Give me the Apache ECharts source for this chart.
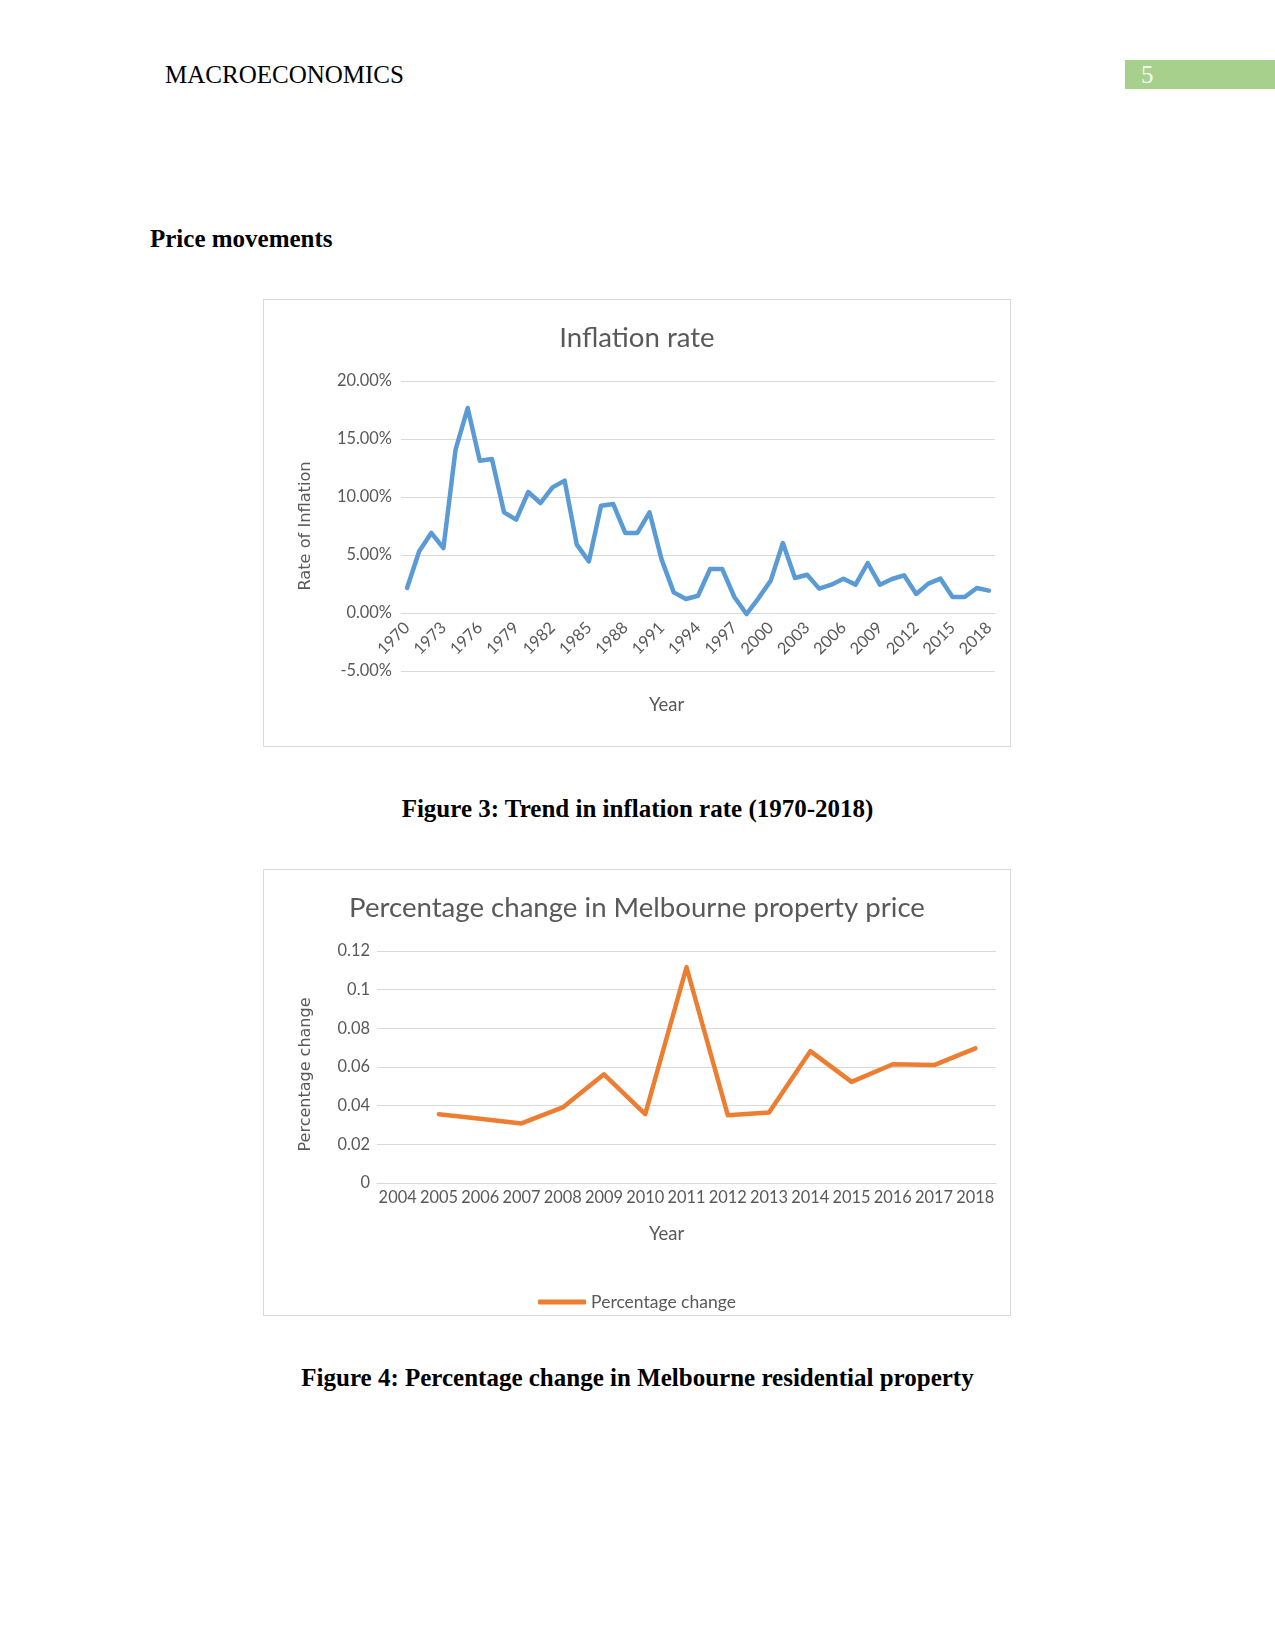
<!DOCTYPE html>
<html>
<head>
<meta charset="utf-8">
<script src="https://cdn.jsdelivr.net/npm/echarts@6/dist/echarts.min.js"></script>
<style>
  html, body { margin: 0; padding: 0; background: #ffffff; }
  #page { position: relative; width: 1275px; height: 1650px; background: #ffffff; overflow: hidden; }
  .serif { position: absolute; font-family: "Liberation Serif", "Times New Roman", serif; color: #000; white-space: nowrap; line-height: 30px; }
  .chartbox { position: absolute; border: 1px solid #D9D9D9; box-sizing: border-box; background: #fff; }
</style>
</head>
<body>
<div id="page">
  <div class="serif" style="left:165px; top:60px; font-size:25px;">MACROECONOMICS</div>
  <div style="position:absolute; left:1125px; top:60px; width:150px; height:29px; background:#A8D08D;"></div>
  <div class="serif" style="left:1141px; top:60px; font-size:25px; line-height:29px; color:#F4FAF0;">5</div>
  <div class="serif" style="left:150px; top:224px; font-size:25px; font-weight:bold;">Price movements</div>
  <div id="chart1" class="chartbox" style="left:263px; top:299px; width:748px; height:448px;"></div>
  <div class="serif" style="left:0; width:1275px; text-align:center; top:794px; font-size:25px; font-weight:bold;">Figure 3: Trend in inflation rate (1970-2018)</div>
  <div id="chart2" class="chartbox" style="left:263px; top:869px; width:748px; height:447px;"></div>
  <div class="serif" style="left:0; width:1275px; text-align:center; top:1363px; font-size:25px; font-weight:bold;">Figure 4: Percentage change in Melbourne residential property</div>
</div>
<script>
// ---------- Data ----------
const inflationYears = ['1970','1971','1972','1973','1974','1975','1976','1977','1978','1979',
  '1980','1981','1982','1983','1984','1985','1986','1987','1988','1989',
  '1990','1991','1992','1993','1994','1995','1996','1997','1998','1999',
  '2000','2001','2002','2003','2004','2005','2006','2007','2008','2009',
  '2010','2011','2012','2013','2014','2015','2016','2017','2018'];
const inflationRates = [0.0216,0.0532,0.0690,0.0560,0.1408,0.1767,0.1313,0.1328,0.0868,0.0805,
  0.1043,0.0948,0.1083,0.1141,0.0589,0.0445,0.0925,0.0940,0.0690,0.0690,
  0.0868,0.0460,0.0178,0.0121,0.0149,0.0379,0.0379,0.0138,-0.0009,0.0129,
  0.0279,0.0603,0.0302,0.0330,0.0210,0.0244,0.0296,0.0244,0.0431,0.0244,
  0.0293,0.0325,0.0164,0.0253,0.0296,0.0138,0.0138,0.0216,0.0193];
const inflationTicks = ['-5.00%','0.00%','5.00%','10.00%','15.00%','20.00%'];

const propertyYears = ['2004','2005','2006','2007','2008','2009','2010','2011','2012','2013','2014','2015','2016','2017','2018'];
const propertyChange = [null,0.0356,0.0332,0.0308,0.0391,0.0562,0.0356,0.1116,0.0351,0.0365,0.0682,0.0523,0.0614,0.0610,0.0696];
const propertyTicks = ['0','0.02','0.04','0.06','0.08','0.1','0.12'];

// ---------- Styles ----------
const TXT = '#595959';
const GRID = '#D9D9D9';
const LATO = 'Lato';

// ---------- Chart 1 ----------
const c1 = echarts.init(document.getElementById('chart1'), null, { renderer: 'canvas' });
c1.setOption({
  animation: false,
  title: {
    text: 'Inflation rate', left: 'center', top: 24, padding: 0,
    textStyle: { fontFamily: LATO, fontSize: 27.6, fontWeight: 'normal', color: TXT }
  },
  grid: { left: 137, right: 15, top: 81, bottom: 75 },
  graphic: [{
    type: 'text', left: 385, top: 396,
    style: { text: 'Year', font: '18.5px Lato', fill: TXT }
  }],
  xAxis: {
    type: 'category', data: inflationYears, boundaryGap: true,
    axisLine: { onZero: false, lineStyle: { color: GRID, width: 1 } },
    axisTick: { show: false },
    axisLabel: { interval: 2, rotate: 45, margin: 12, color: TXT, fontFamily: LATO, fontSize: 16.4 }
  },
  yAxis: {
    type: 'value', min: -0.05, max: 0.2, interval: 0.05,
    name: 'Rate of Inflation', nameLocation: 'middle', nameRotate: 90, nameGap: 87,
    nameTextStyle: { fontFamily: 'DejaVu Sans', fontSize: 16.2, color: TXT },
    axisLine: { show: false }, axisTick: { show: false },
    splitLine: { lineStyle: { color: GRID, width: 1 } },
    axisLabel: {
      margin: 9, color: TXT, fontFamily: LATO, fontSize: 16.4,
      formatter: function (v) {
        const idx = Math.round((v + 0.05) / 0.05);
        return inflationTicks[idx];
      }
    }
  },
  series: [{
    name: 'Inflation rate', type: 'line', data: inflationRates,
    showSymbol: false, symbol: 'none',
    lineStyle: { color: '#5B9BD5', width: 4.5, join: 'round', cap: 'round' },
    itemStyle: { color: '#5B9BD5' }
  }]
});
// Place the category axis on the zero line (as in the original), using the library's own y scale
(function () {
  const yZero = c1.convertToPixel({ yAxisIndex: 0 }, 0);
  const yMin = c1.convertToPixel({ yAxisIndex: 0 }, -0.05);
  c1.setOption({ xAxis: { offset: yZero - yMin } });
})();

// ---------- Chart 2 ----------
const c2 = echarts.init(document.getElementById('chart2'), null, { renderer: 'canvas' });
c2.setOption({
  animation: false,
  title: {
    text: 'Percentage change in Melbourne property price', left: 'center', top: 24, padding: 0,
    textStyle: { fontFamily: LATO, fontSize: 27.6, fontWeight: 'normal', color: TXT }
  },
  grid: { left: 113, right: 14, top: 81, bottom: 132 },
  graphic: [{
    type: 'text', left: 385, top: 355,
    style: { text: 'Year', font: '18.5px Lato', fill: TXT }
  }],
  legend: {
    top: 418, left: 'center',
    icon: 'roundRect', itemWidth: 48, itemHeight: 5, itemGap: 5,
    textStyle: { fontFamily: LATO, fontSize: 17.5, color: TXT }
  },
  xAxis: {
    type: 'category', data: propertyYears, boundaryGap: true,
    axisLine: { lineStyle: { color: GRID, width: 1 } },
    axisTick: { show: false },
    axisLabel: { interval: 0, margin: 7, color: TXT, fontFamily: LATO, fontSize: 16.4 }
  },
  yAxis: {
    type: 'value', min: 0, max: 0.12, interval: 0.02,
    name: 'Percentage change', nameLocation: 'middle', nameRotate: 90, nameGap: 63,
    nameTextStyle: { fontFamily: 'DejaVu Sans', fontSize: 16, color: TXT, padding: [0, 15, 0, 0] },
    axisLine: { show: false }, axisTick: { show: false },
    splitLine: { lineStyle: { color: GRID, width: 1 } },
    axisLabel: {
      margin: 7, color: TXT, fontFamily: LATO, fontSize: 16.4,
      formatter: function (v) {
        const idx = Math.round(v / 0.02);
        return propertyTicks[idx];
      }
    }
  },
  series: [{
    name: 'Percentage change', type: 'line', data: propertyChange,
    showSymbol: false, symbol: 'none', connectNulls: false,
    lineStyle: { color: '#ED7D31', width: 4.5, join: 'round', cap: 'round' },
    itemStyle: { color: '#ED7D31' }
  }]
});
</script>
</body>
</html>
